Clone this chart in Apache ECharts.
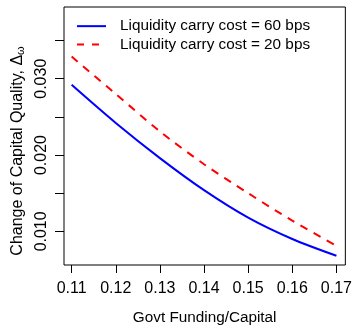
<!DOCTYPE html>
<html>
<head>
<meta charset="utf-8">
<script src="https://cdn.jsdelivr.net/npm/echarts@6/dist/echarts.min.js"></script>
<style>
  html, body { margin: 0; padding: 0; background: #fff; }
  #chart { width: 355px; height: 330px; }
</style>
</head>
<body>
<div id="chart"></div>
<script>
// Govt funding / capital ratio on the horizontal axis
const govtFunding = [0.11, 0.12, 0.13, 0.14, 0.15, 0.16, 0.17];
// Change of capital quality for two liquidity carry costs
const quality60bps = [0.0292, 0.0242, 0.0196, 0.0154, 0.0118, 0.0090, 0.0068];
const quality20bps = [0.0329, 0.0280, 0.0231, 0.0188, 0.0150, 0.0114, 0.0081];
// Tick positions and the subset that carries labels
const xTicks = [0.11, 0.12, 0.13, 0.14, 0.15, 0.16, 0.17];
const yTicks = [0.010, 0.015, 0.020, 0.025, 0.030, 0.035];
const yLabels = [0.010, 0.020, 0.030];
const seriesNames = ['Liquidity carry cost = 60 bps', 'Liquidity carry cost = 20 bps'];

const FONT = "'Liberation Sans', Arial, Helvetica, sans-serif";
const pairs = (xs, ys) => xs.map((x, i) => [x, ys[i]]);

// Legend keys: a solid bar and a two-dash bar, both 29 units wide
const SOLID_KEY = 'path://M0,0H29V2H0Z';
const DASHED_KEY = 'path://M0,0H7V2H0Z M15,0H22V2H15Z M28.95,0.99H29V1.01H28.95Z';

const chart = echarts.init(document.getElementById('chart'), null, { renderer: 'canvas' });
chart.setOption({
  animation: false,
  backgroundColor: '#fff',
  textStyle: { fontFamily: FONT, color: '#000' },
  grid: {
    left: 64, right: 7, top: 7, bottom: 57,
    show: true, borderColor: '#000', borderWidth: 1, backgroundColor: 'transparent'
  },
  legend: {
    orient: 'vertical',
    left: 77, top: 17, padding: 0,
    itemWidth: 29, itemHeight: 2, itemGap: 0,
    symbolKeepAspect: true,
    textStyle: { fontFamily: FONT, fontSize: 15.3, color: '#000', lineHeight: 18.3, padding: [0, 0, 0, 9] },
    data: [
      { name: seriesNames[0], icon: SOLID_KEY, itemStyle: { color: '#0000ff', borderWidth: 0 } },
      { name: seriesNames[1], icon: DASHED_KEY, itemStyle: { color: '#ff0000', borderWidth: 0 } }
    ]
  },
  xAxis: {
    type: 'value',
    min: 0.10827, max: 0.17202,
    name: 'Govt Funding/Capital',
    nameLocation: 'middle', nameGap: 45,
    nameTextStyle: { fontFamily: FONT, fontSize: 15.3, color: '#000' },
    axisLine: { show: false },
    axisTick: { show: true, inside: false, length: 8, customValues: xTicks, lineStyle: { color: '#000', width: 1 } },
    axisLabel: {
      customValues: xTicks, margin: 16, fontFamily: FONT, fontSize: 16, color: '#000',
      formatter: v => v.toFixed(2)
    },
    splitLine: { show: false }
  },
  yAxis: {
    type: 'value',
    min: 0.00559, max: 0.0394,
    name: 'Change of Capital Quality, Δ{sub|ω}',
    nameLocation: 'middle', nameGap: 36, nameRotate: 90,
    nameTextStyle: {
      fontFamily: FONT, fontSize: 16, color: '#000', padding: [0, 30, 0, 0],
      rich: { sub: { fontFamily: FONT, fontSize: 11, color: '#000', verticalAlign: 'bottom', padding: [6, 0, 0, 0] } }
    },
    axisLine: { show: false },
    axisTick: { show: true, inside: false, length: 9, customValues: yTicks, lineStyle: { color: '#000', width: 1 } },
    axisLabel: {
      customValues: yLabels, rotate: 90, margin: 14, fontFamily: FONT, fontSize: 16, color: '#000',
      formatter: v => v.toFixed(3)
    },
    splitLine: { show: false }
  },
  series: [
    {
      name: seriesNames[0], type: 'line', smooth: 0.3, showSymbol: false, symbol: 'none',
      data: pairs(govtFunding, quality60bps),
      itemStyle: { color: '#0000ff', borderWidth: 0 },
      lineStyle: { color: '#0000ff', width: 2 }
    },
    {
      name: seriesNames[1], type: 'line', smooth: 0.3, showSymbol: false, symbol: 'none',
      data: pairs(govtFunding, quality20bps),
      itemStyle: { color: '#ff0000', borderWidth: 0 },
      lineStyle: { color: '#ff0000', width: 2, type: [8, 7] }
    }
  ]
});
</script>
</body>
</html>
